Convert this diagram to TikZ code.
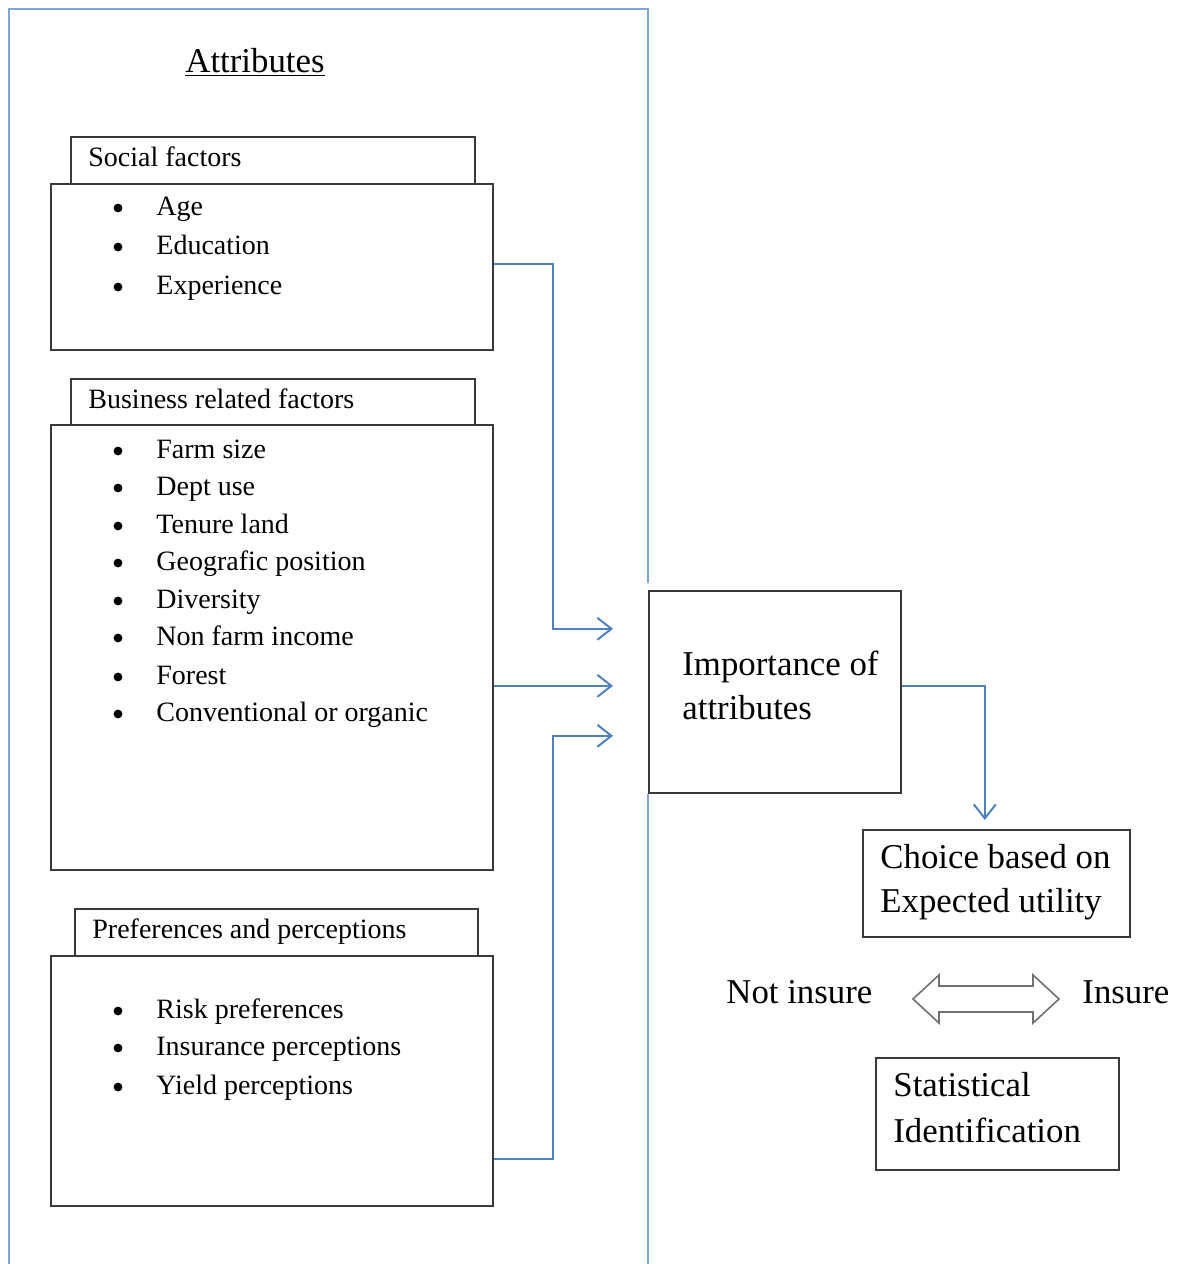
\documentclass[tikz,border=0pt]{standalone}
\usepackage{fontspec}
\setmainfont{Liberation Serif}
\usetikzlibrary{arrows.meta,calc}
\definecolor{frameblue}{HTML}{7FA6D9}
\definecolor{lineblue}{HTML}{4F81BD}
\definecolor{boxgray}{HTML}{3A3A3A}
\definecolor{arrowgray}{HTML}{707070}
\begin{document}
\begin{tikzpicture}[x=0.5pt,y=-0.5pt,
  box/.style={draw=boxgray, line width=0.8pt, fill=white, rectangle, inner sep=0pt, anchor=north west},
  small/.style={font=\fontsize{14}{16}\selectfont, inner sep=0pt, anchor=base west},
  big/.style={font=\fontsize{17.4}{20}\selectfont, inner sep=0pt, anchor=base west},
  bul/.style={circle, fill=black, inner sep=0pt, minimum size=4.4pt},
  conn/.style={draw=lineblue, line width=1pt, -{Straight Barb[length=7pt,width=11pt,line width=1pt]}},
]
\useasboundingbox (0,0) rectangle (1183,1264);
% importance box (placed first for frame reference)
\node[box, minimum width=126pt, minimum height=101pt] (imp) at (648,590) {};
% outer frame
\draw[frameblue, line width=0.7pt] (9,1270) -- (9,9) -- (648,9) -- ($(imp.north west)+(0,-7)$);
\draw[frameblue, line width=0.7pt] (imp.south west) -- (648,1270);
% title
\node[big] (title) at (185,72) {\underline{Attributes}};
% social
\node[box, minimum width=202pt, minimum height=23.5pt] (soctab) at (70,136) {};
\node[box, minimum width=221pt, minimum height=83pt] (socbox) at (50,183) {};
\node[small] (soct) at (88,166) {Social factors};
\foreach \t/\y [count=\i] in {Age/215, Education/254, Experience/294}{
  \node[bul] (sb\i) at (118,\y-7) {};
  \node[small] (si\i) at (156,\y) {\t};
}
% business
\node[box, minimum width=202pt, minimum height=24pt] (bustab) at (70,378) {};
\node[box, minimum width=221pt, minimum height=222.5pt] (busbox) at (50,424) {};
\node[small] (bust) at (88,408) {Business related factors};
\foreach \t/\y [count=\i] in {Farm size/458, Dept use/495, Tenure land/533, Geografic position/570, Diversity/608, Non farm income/645, Forest/684, Conventional or organic/721}{
  \node[bul] (bb\i) at (118,\y-7) {};
  \node[small] (bi\i) at (156,\y) {\t};
}
% preferences
\node[box, minimum width=201.5pt, minimum height=23.5pt] (preftab) at (74,908) {};
\node[box, minimum width=221pt, minimum height=125pt] (prefbox) at (50,955) {};
\node[small] (preft) at (92,938) {Preferences and perceptions};
\foreach \t/\y [count=\i] in {Risk preferences/1018, Insurance perceptions/1055, Yield perceptions/1094}{
  \node[bul] (pb\i) at (118,\y-7) {};
  \node[small] (pi\i) at (156,\y) {\t};
}
% importance text
\node[big] (impa) at (682,675) {Importance of};
\node[big] (impb) at (682,719) {attributes};
% choice
\node[box, minimum width=133.5pt, minimum height=53.5pt] (choice) at (862,829) {};
\node[big] (cha) at (880,868) {Choice based on};
\node[big] (chb) at (880,912) {Expected utility};
% statistical
\node[box, minimum width=121.5pt, minimum height=56pt] (stat) at (875,1057) {};
\node[big] (sta) at (893,1096) {Statistical};
\node[big] (stb) at (893,1142) {Identification};
% not insure / insure
\node[big] (ni) at (726,1003) {Not insure};
\node[big] (ins) at (1082,1003) {Insure};
\draw[arrowgray, line width=0.8pt, line join=miter] (913,999) -- (939,975) -- (939,986) -- (1033,986) -- (1033,975) -- (1059,999) -- (1033,1023) -- (1033,1012) -- (939,1012) -- (939,1023) -- cycle;
% connectors
\coordinate (a1) at ($(imp.west)+(-35,-63)$);
\coordinate (a2) at ($(imp.west)+(-35,-6)$);
\coordinate (a3) at ($(imp.west)+(-35,44)$);
\draw[conn] ($(socbox.east)+(0,-3)$) -| ($(a1)+(-60,0)$) -- (a1);
\draw[conn] (busbox.east |- a2) -- (a2);
\draw[conn] ($(prefbox.east)+(0,78)$) -| ($(a3)+(-60,0)$) -- (a3);
\draw[conn] ($(imp.east)+(0,-6)$) -| ($(choice.north)+(-11.5,-9)$);
\end{tikzpicture}
\end{document}
